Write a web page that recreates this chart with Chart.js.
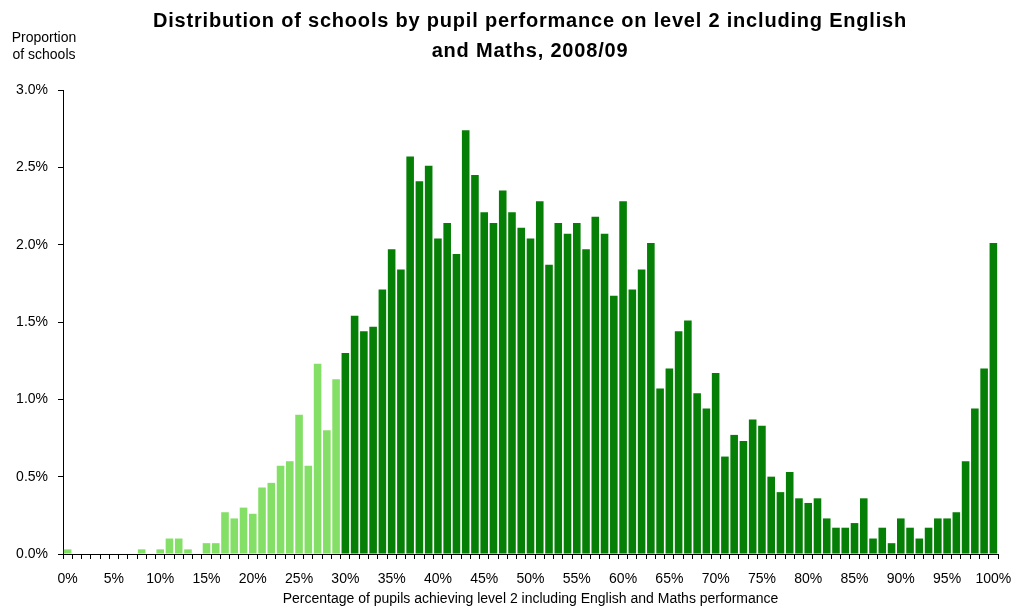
<!DOCTYPE html>
<html>
<head>
<meta charset="utf-8">
<script src="https://cdn.jsdelivr.net/npm/chart.js@4.4.0/dist/chart.umd.min.js"></script>
<style>
  body { margin: 0; background: #fff; font-family: "Liberation Sans", Arial, sans-serif; }
  #wrap { position: relative; width: 1015px; height: 608px; }
  #title { position: absolute; left: 80px; width: 900px; top: 5px; text-align: center;
           font-weight: bold; font-size: 20px; line-height: 30px; letter-spacing: 0.8px; color: #000; }
  #ylab { position: absolute; left: 0px; width: 88px; top: 29px; text-align: center;
          font-size: 14px; line-height: 17px; color: #000; }
</style>
</head>
<body>
<div id="wrap">
  <canvas id="chart" width="1015" height="608"></canvas>
  <div id="title">Distribution of schools by pupil performance on level 2 including English<br>and Maths, 2008/09</div>
  <div id="ylab">Proportion<br>of schools</div>
</div>
<script>
// Categories: 0% .. 100%
const categories = [];
for (let i = 0; i <= 100; i++) categories.push(i + '%');

// Proportion of schools (%) at each performance level
const proportions = [
  0.03, 0, 0, 0, 0, 0, 0, 0, 0.03, 0,
  0.03, 0.10, 0.10, 0.03, 0, 0.07, 0.07, 0.27, 0.23, 0.30,
  0.26, 0.43, 0.46, 0.57, 0.60, 0.90, 0.57, 1.23, 0.80, 1.13,
  1.30, 1.54, 1.44, 1.47, 1.71, 1.97, 1.84, 2.57, 2.41, 2.51,
  2.04, 2.14, 1.94, 2.74, 2.45, 2.21, 2.14, 2.35, 2.21, 2.11,
  2.04, 2.28, 1.87, 2.14, 2.07, 2.14, 1.97, 2.18, 2.07, 1.67,
  2.28, 1.71, 1.84, 2.01, 1.07, 1.20, 1.44, 1.51, 1.04, 0.94,
  1.17, 0.63, 0.77, 0.73, 0.87, 0.83, 0.50, 0.40, 0.53, 0.36,
  0.33, 0.36, 0.23, 0.17, 0.17, 0.20, 0.36, 0.10, 0.17, 0.07,
  0.23, 0.17, 0.10, 0.17, 0.23, 0.23, 0.27, 0.60, 0.94, 1.20,
  2.01
];

// Levels below this threshold are drawn in light green
const threshold = 30;
const lightGreen = '#84df66';
const darkGreen = '#067f06';

const barColors = categories.map((c, i) => i < threshold ? lightGreen : darkGreen);

const tickFont = { family: '"Liberation Sans", Arial', size: 14 };

const ctx = document.getElementById('chart').getContext('2d');
new Chart(ctx, {
  type: 'bar',
  data: {
    labels: categories,
    datasets: [{
      data: proportions,
      backgroundColor: barColors,
      borderWidth: 0,
      barPercentage: 0.82,
      categoryPercentage: 1.0
    }]
  },
  options: {
    responsive: false,
    animation: false,
    layout: { padding: { top: 90, left: 0, right: 0, bottom: 0 } },
    plugins: {
      legend: { display: false },
      tooltip: { enabled: false }
    },
    scales: {
      x: {
        grid: {
          display: true,
          drawOnChartArea: false,
          drawTicks: true,
          tickLength: 5,
          color: '#000',
          offset: true
        },
        border: { color: '#000', width: 1 },
        ticks: {
          autoSkip: false,
          maxRotation: 0,
          padding: 12,
          color: '#000',
          font: tickFont,
          callback: function(value, index) {
            return index % 5 === 0 ? categories[index] : '';
          }
        },
        title: {
          display: true,
          text: 'Percentage of pupils achieving level 2 including English and Maths performance',
          color: '#000',
          font: tickFont,
          padding: { top: 4, bottom: 0 }
        },
        afterFit: function(scale) {
          scale.height = 54;
          scale.paddingLeft = 0;
          scale.paddingRight = 17;
        }
      },
      y: {
        min: 0,
        max: 3,
        grid: {
          display: true,
          drawOnChartArea: false,
          drawTicks: true,
          tickLength: 5,
          color: '#000'
        },
        border: { color: '#000', width: 1 },
        ticks: {
          stepSize: 0.5,
          padding: 10,
          color: '#000',
          font: tickFont,
          callback: function(value) { return value.toFixed(1) + '%'; }
        },
        afterFit: function(scale) {
          scale.width = 63;
          scale.paddingTop = 0;
          scale.paddingBottom = 0;
        }
      }
    }
  }
});
</script>
</body>
</html>
